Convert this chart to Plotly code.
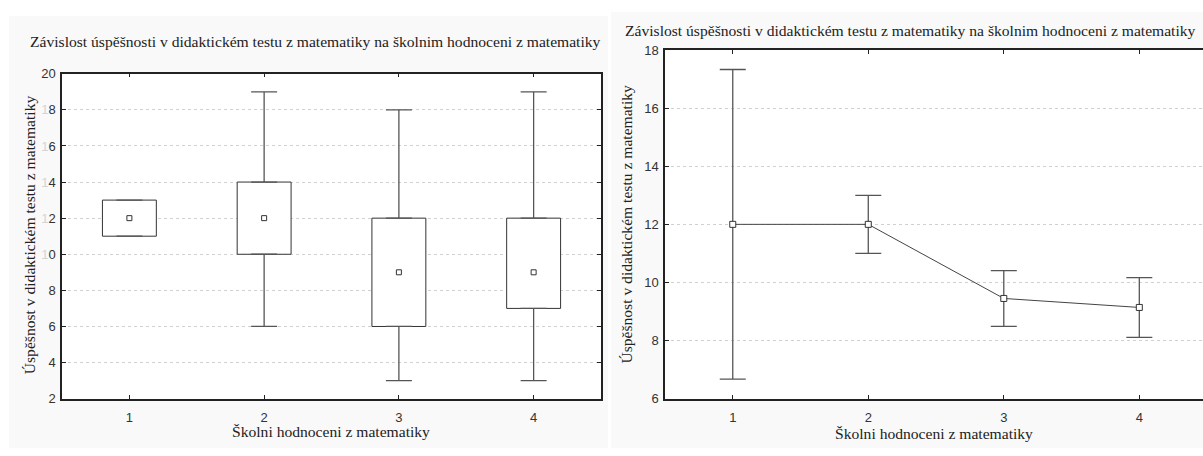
import plotly.graph_objects as go

# School grade in mathematics (x categories)
grades = [1, 2, 3, 4]

# Box plot summary of the didactic test score per grade
box_median = [12, 12, 9, 9]
box_low = [11, 10, 6, 7]
box_high = [13, 14, 12, 12]
whisker_low = [11, 6, 3, 3]
whisker_high = [13, 19, 18, 19]

# Mean score per grade with its interval half-width
mean_score = [12.0, 12.0, 9.45, 9.14]
mean_err = [5.33, 1.0, 0.96, 1.03]

left_ticks = [2, 4, 6, 8, 10, 12, 14, 16, 18, 20]
left_ticktext = ["2", "4", "6", "8",
                 "<span style='color:#d4d4d4'>1</span>0",
                 "<span style='color:#d4d4d4'>1</span>2",
                 "<span style='color:#d4d4d4'>1</span>4",
                 "<span style='color:#d4d4d4'>1</span>6",
                 "<span style='color:#d4d4d4'>1</span>8",
                 "20"]
right_ticks = [6, 8, 10, 12, 14, 16, 18]

title_text = "Závislost úspěšnosti v didaktickém testu z matematiky na školnim hodnoceni z matematiky"
ytitle_text = "Úspěšnost v didaktickém testu z matematiky"
xtitle_text = "Školni hodnoceni z matematiky"

W, H = 1203, 456
SERIF = "Liberation Serif, Times New Roman, serif"
SANS = "Liberation Sans, Arial, sans-serif"
AX = "#222222"
WH = "#555555"
TXT = dict(family=SERIF, size=15.6, color="#222222")


def px(x):
    return x / W


def py(y):
    return 1 - y / H


fig = go.Figure()

# Boxes (interquartile range)
fig.add_trace(go.Bar(
    x=grades, y=[h - l for h, l in zip(box_high, box_low)], base=box_low,
    width=0.4, marker=dict(color="white", line=dict(color="#333333", width=1)),
    xaxis="x", yaxis="y", showlegend=False, hoverinfo="skip"))

# Upper whiskers
fig.add_trace(go.Scatter(
    x=grades, y=box_high, mode="markers", marker=dict(opacity=0, size=1),
    error_y=dict(type="data", symmetric=False,
                 array=[w - h for w, h in zip(whisker_high, box_high)],
                 arrayminus=[0] * len(grades), color=WH, thickness=1.3, width=13),
    xaxis="x", yaxis="y", showlegend=False, hoverinfo="skip"))

# Lower whiskers
fig.add_trace(go.Scatter(
    x=grades, y=box_low, mode="markers", marker=dict(opacity=0, size=1),
    error_y=dict(type="data", symmetric=False,
                 array=[0] * len(grades),
                 arrayminus=[l - w for l, w in zip(box_low, whisker_low)],
                 color=WH, thickness=1.3, width=13),
    xaxis="x", yaxis="y", showlegend=False, hoverinfo="skip"))

# Median markers
fig.add_trace(go.Scatter(
    x=grades, y=box_median, mode="markers",
    marker=dict(symbol="square", size=5, color="white", line=dict(color="#333333", width=1)),
    xaxis="x", yaxis="y", showlegend=False))

# Means with intervals
fig.add_trace(go.Scatter(
    x=grades, y=mean_score, mode="lines+markers",
    line=dict(color="#444444", width=1),
    marker=dict(symbol="square", size=6, color="white", line=dict(color="#333333", width=1)),
    error_y=dict(type="data", array=mean_err, color=WH, thickness=1.3, width=13),
    xaxis="x2", yaxis="y2", showlegend=False))

axis_common = dict(showline=True, linecolor=AX, linewidth=1.5, ticks="inside",
                   ticklen=4, tickcolor=AX, zeroline=False,
                   tickfont=dict(family=SANS, size=13, color="#333333"))
grid = dict(showgrid=True, gridcolor="#d0d0d0", griddash="dot", gridwidth=1)

fig.update_layout(
    width=W, height=H,
    margin=dict(l=0, r=0, t=0, b=0),
    paper_bgcolor="white", plot_bgcolor="white",
    xaxis=dict(domain=[px(62), px(601)], range=[0.5, 4.5], tickvals=grades,
               mirror="ticks", showgrid=False, anchor="y", ticklabelstandoff=6,
               **axis_common),
    yaxis=dict(domain=[py(405), py(69)], range=[2, 20], tickvals=left_ticks,
               ticktext=left_ticktext, mirror="ticks", anchor="x", ticklabelstandoff=2,
               **grid, **axis_common),
    xaxis2=dict(domain=[px(665), 1.0], range=[0.5, 4.47], tickvals=grades,
                mirror="ticks", showgrid=False, anchor="y2", ticklabelstandoff=6,
                **axis_common),
    yaxis2=dict(domain=[py(405), py(44.5)], range=[6, 18], tickvals=right_ticks,
                mirror=False, anchor="x2", ticklabelstandoff=2, **grid, **axis_common),
    shapes=[
        dict(type="rect", xref="paper", yref="paper", x0=px(9), x1=px(608),
             y0=0, y1=py(9), fillcolor="#f9f9f9", line=dict(width=0), layer="below"),
        dict(type="rect", xref="paper", yref="paper", x0=px(611), x1=1,
             y0=0, y1=py(5), fillcolor="#f9f9f9", line=dict(width=0), layer="below"),
        dict(type="rect", xref="x domain", yref="y domain", x0=0, x1=1, y0=0, y1=1,
             fillcolor="white", line=dict(width=0), layer="below"),
        dict(type="rect", xref="x2 domain", yref="y2 domain", x0=0, x1=1, y0=0, y1=1,
             fillcolor="white", line=dict(width=0), layer="below"),
    ],
    annotations=[
        dict(text=title_text, xref="paper", yref="paper", x=px(315), y=py(36),
             showarrow=False, font=TXT, xanchor="center", yanchor="middle"),
        dict(text=title_text, xref="paper", yref="paper", x=px(910), y=py(24),
             showarrow=False, font=TXT, xanchor="center", yanchor="middle"),
        dict(text=ytitle_text, xref="paper", yref="paper", x=px(29), y=py(236),
             showarrow=False, textangle=-90, font=TXT, xanchor="center", yanchor="middle"),
        dict(text=ytitle_text, xref="paper", yref="paper", x=px(627), y=py(225),
             showarrow=False, textangle=-90, font=TXT, xanchor="center", yanchor="middle"),
        dict(text=xtitle_text, xref="paper", yref="paper", x=px(331), y=py(439),
             showarrow=False, font=TXT, xanchor="center", yanchor="middle"),
        dict(text=xtitle_text, xref="paper", yref="paper", x=px(934), y=py(441),
             showarrow=False, font=TXT, xanchor="center", yanchor="middle"),
    ],
)

fig.write_html("out.html")
